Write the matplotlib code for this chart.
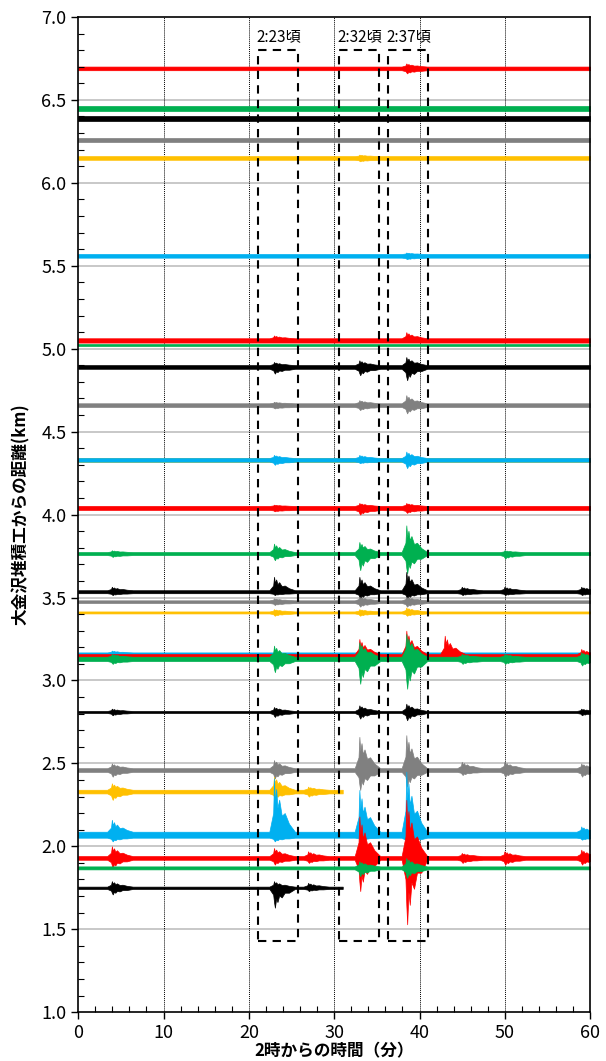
import numpy as np
import matplotlib.pyplot as plt
from matplotlib.ticker import MultipleLocator

plt.rcParams['font.family'] = ['Noto Sans CJK JP', 'DejaVu Sans']

# traces: baseline distance (km), colour, quiet half-width (km), end time (min)
R, G, K, S, Y, C = '#FF0000', '#00B050', '#000000', '#808080', '#FFC000', '#00B0F0'

dist = [6.69, 6.45, 6.39, 6.26, 6.15, 5.56, 5.05, 5.025, 4.89, 4.66, 4.33, 4.33,
        4.04, 3.765, 3.535, 3.475, 3.41, 3.16, 3.15, 3.13, 2.81, 2.46, 2.33, 2.07,
        1.93, 1.87, 1.75]
colors = [R, G, K, S, Y, C, R, G, K, S, Y, C,
          R, G, K, S, Y, C, R, G, K, S, Y, C,
          R, G, K]
quiet = [0.011, 0.016, 0.016, 0.011, 0.011, 0.011, 0.013, 0.006, 0.011, 0.011, 0.011, 0.011,
         0.012, 0.009, 0.009, 0.008, 0.006, 0.009, 0.009, 0.013, 0.006, 0.011, 0.011, 0.018,
         0.011, 0.009, 0.007]
t_end = [60] * 22 + [31, 60, 60, 60, 31]

# bursts per trace: (time min, up km, down km)
bursts = [
    [(38.5, 0.03, 0.03)],
    [],
    [],
    [],
    [(33.0, 0.02, 0.02)],
    [(38.5, 0.02, 0.02)],
    [(23.0, 0.03, 0.01), (38.5, 0.05, 0.01)],
    [],
    [(23.0, 0.03, 0.04), (33.0, 0.04, 0.05), (38.5, 0.06, 0.08)],
    [(23.0, 0.02, 0.02), (33.0, 0.03, 0.03), (38.5, 0.06, 0.05)],
    [],
    [(23.0, 0.03, 0.03), (33.0, 0.03, 0.02), (38.5, 0.05, 0.05)],
    [(23.0, 0.02, 0.02), (33.0, 0.03, 0.04), (38.5, 0.03, 0.03)],
    [(4.0, 0.02, 0.02), (23.0, 0.06, 0.04), (33.0, 0.07, 0.10), (38.5, 0.17, 0.12), (50.0, 0.02, 0.03)],
    [(4.0, 0.03, 0.02), (23.0, 0.09, 0.02), (33.0, 0.09, 0.04), (38.5, 0.12, 0.04), (45.0, 0.03, 0.02),
     (50.0, 0.03, 0.02), (59.0, 0.03, 0.02)],
    [(23.0, 0.02, 0.02), (33.0, 0.03, 0.03), (38.5, 0.03, 0.03)],
    [(23.0, 0.02, 0.02), (33.0, 0.02, 0.02), (38.5, 0.03, 0.02)],
    [(4.0, 0.02, 0.01), (38.5, 0.02, 0.01)],
    [(33.0, 0.10, 0.10), (38.5, 0.15, 0.07), (43.0, 0.12, 0.01), (59.0, 0.04, 0.02)],
    [(4.0, 0.03, 0.03), (23.0, 0.08, 0.08), (33.0, 0.10, 0.15), (38.5, 0.15, 0.18), (45.0, 0.03, 0.03),
     (50.0, 0.03, 0.03), (59.0, 0.04, 0.04)],
    [(4.0, 0.02, 0.02), (23.0, 0.03, 0.03), (33.0, 0.04, 0.04), (38.5, 0.05, 0.05), (59.0, 0.02, 0.02)],
    [(4.0, 0.04, 0.04), (23.0, 0.06, 0.05), (33.0, 0.20, 0.12), (38.5, 0.21, 0.10), (45.0, 0.05, 0.03),
     (50.0, 0.05, 0.04), (59.0, 0.04, 0.04)],
    [(4.0, 0.05, 0.05), (23.0, 0.09, 0.04), (27.0, 0.03, 0.03)],
    [(4.0, 0.09, 0.04), (23.0, 0.34, 0.04), (33.0, 0.27, 0.03), (38.5, 0.38, 0.06), (59.0, 0.05, 0.03)],
    [(4.0, 0.07, 0.06), (23.0, 0.06, 0.04), (27.0, 0.04, 0.03), (33.0, 0.25, 0.20), (38.5, 0.35, 0.40),
     (45.0, 0.03, 0.03), (50.0, 0.04, 0.04), (59.0, 0.05, 0.04)],
    [(33.0, 0.04, 0.05), (38.5, 0.06, 0.06)],
    [(4.0, 0.04, 0.04), (23.0, 0.04, 0.12), (27.0, 0.03, 0.02)],
]

# dashed boxes (min) and labels
box_x0 = [21.1, 30.6, 36.3]
box_x1 = [25.8, 35.3, 41.0]
box_y0 = 1.43
box_y1 = 6.80
box_labels = ['2:23頃', '2:32頃', '2:37頃']

# spindle outline used for each burst (relative time, fraction of amplitude)
shape_dt = [-0.6, -0.15, -0.05, 0.05, 0.2, 0.35, 0.55, 0.85, 1.2, 1.7, 2.4]
shape_up = [0.0, 0.35, 1.0, 0.55, 0.8, 0.45, 0.6, 0.3, 0.35, 0.15, 0.0]
shape_dn = [0.0, 0.3, 0.7, 1.0, 0.5, 0.7, 0.35, 0.45, 0.2, 0.2, 0.0]


fig = plt.figure(figsize=(6.06, 10.61), dpi=100)
ax = fig.add_axes([0.129, 0.046, 0.845, 0.938])

for d, c, q, te, bl in zip(dist, colors, quiet, t_end, bursts):
    xs = [0.0]
    up = [d + q]
    dn = [d - q]
    for (tb, a, b) in bl:
        if tb > te:
            continue
        for dt, fu, fd in zip(shape_dt, shape_up, shape_dn):
            xs.append(min(tb + dt, te))
            up.append(d + q + (a - q) * fu if a > q else d + q)
            dn.append(d - q - (b - q) * fd if b > q else d - q)
    xs.append(te)
    up.append(d + q)
    dn.append(d - q)
    ax.fill_between(xs, dn, up, color=c, lw=0.5, edgecolor=c)

for x0, x1, lab in zip(box_x0, box_x1, box_labels):
    ax.plot([x0, x1, x1, x0, x0], [box_y0, box_y0, box_y1, box_y1, box_y0],
            color='black', lw=1.5, ls=(0, (4, 3)))
    ax.text(x0 - 0.2, box_y1 + 0.08, lab, fontsize=11, ha='left', va='center')

ax.set_xlim(0, 60)
ax.set_ylim(1.0, 7.0)
ax.xaxis.set_major_locator(MultipleLocator(10))
ax.xaxis.set_minor_locator(MultipleLocator(2))
ax.yaxis.set_major_locator(MultipleLocator(0.5))
ax.yaxis.set_minor_locator(MultipleLocator(0.1))
ax.yaxis.set_major_formatter(plt.FormatStrFormatter('%.1f'))
ax.tick_params(which='major', direction='out', length=5, width=1, labelsize=13)
ax.tick_params(which='minor', direction='in', length=4, width=0.8)

for yv in np.arange(1.5, 7.0, 0.5):
    ax.axhline(yv, color='#BFBFBF', lw=1.2, zorder=0)
for xv in range(10, 60, 10):
    ax.axvline(xv, color='black', lw=0.7, ls=(0, (1, 1)), zorder=0)

for sp in ax.spines.values():
    sp.set_linewidth(1.2)

ax.set_ylabel('大金沢堆積工からの距離(km)', fontsize=12, fontweight='bold', labelpad=8)
ax.set_xlabel('2時からの時間（分）', fontsize=12, fontweight='bold', labelpad=0)

plt.savefig('out.png', dpi=100)
